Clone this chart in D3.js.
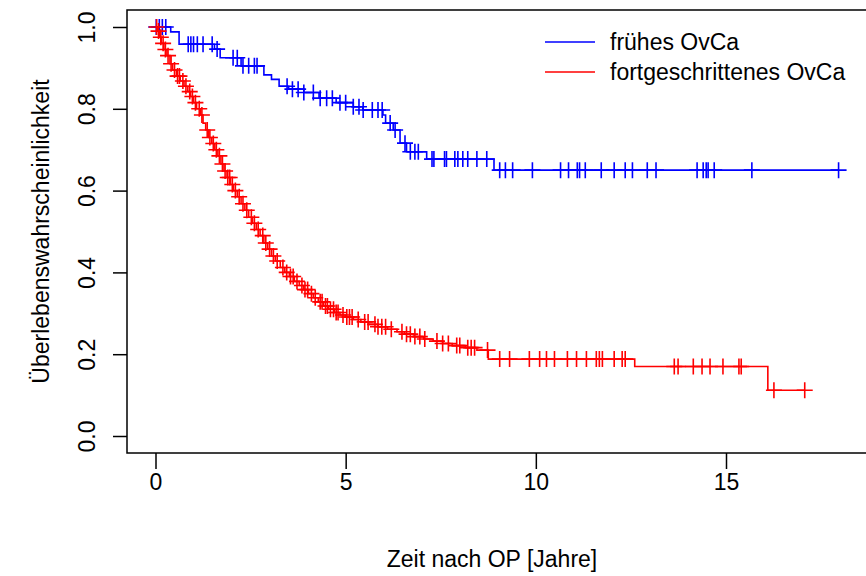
<!DOCTYPE html>
<html>
<head>
<meta charset="utf-8">
<script src="https://cdn.jsdelivr.net/npm/d3@7"></script>
<style>
  body { margin: 0; background: #fff; }
  svg { display: block; }
  text { font-family: "Liberation Sans", Arial, sans-serif; fill: #000; }
</style>
</head>
<body>
<svg id="km" width="866" height="576"></svg>
<script>
// ---- data ----
var seriesNames = ["frühes OvCa", "fortgeschrittenes OvCa"];
var seriesColours = ["#0000ff", "#ff0000"];

// Kaplan-Meier steps: time [years] and survival after that time
var blueTimes = [0, 0.40, 0.62, 1.55, 1.70, 2.25, 2.85, 3.05, 3.25, 3.50, 3.90, 4.30, 4.75, 5.20, 5.45, 5.98, 6.05, 6.25, 6.43, 6.60, 7.13, 8.90];
var blueSurv  = [1.0, 0.988, 0.958, 0.946, 0.925, 0.905, 0.883, 0.872, 0.855, 0.848, 0.840, 0.826, 0.815, 0.805, 0.797, 0.785, 0.765, 0.748, 0.716, 0.695, 0.677, 0.650];
var blueCensor = [0.02, 0.10, 0.18, 0.27, 0.86, 0.93, 1.00, 1.10, 1.25, 1.49, 1.62, 2.04, 2.15, 2.30, 2.45, 2.60, 2.67,
  3.46, 3.60, 3.75, 3.90, 4.15, 4.33, 4.50, 4.65, 4.85, 5.00, 5.20, 5.35, 5.46, 5.70, 5.85, 5.96, 6.17, 6.30, 6.56,
  6.70, 6.82, 6.91, 7.27, 7.32, 7.60, 7.65, 7.87, 7.95, 8.08, 8.21, 8.45, 8.71, 9.05, 9.20, 9.39, 9.91, 10.65, 10.86,
  11.09, 11.15, 11.30, 11.72, 12.06, 12.35, 12.54, 12.93, 13.16, 14.24, 14.40, 14.48, 14.53, 14.69, 15.68, 17.96];

var redTimes = [0, 0.05, 0.10, 0.15, 0.22, 0.30, 0.38, 0.45, 0.55, 0.65, 0.75, 0.85, 0.92, 1.00, 1.08, 1.18, 1.25, 1.32,
  1.40, 1.48, 1.56, 1.64, 1.72, 1.80, 1.88, 1.97, 2.05, 2.15, 2.25, 2.35, 2.45, 2.55, 2.65, 2.75, 2.85, 2.95, 3.05,
  3.15, 3.28, 3.40, 3.52, 3.65, 3.78, 3.90, 4.02, 4.15, 4.28, 4.42, 4.55, 4.70, 4.85, 5.00, 5.20, 5.40, 5.60, 5.85,
  6.10, 6.35, 6.55, 6.80, 7.05, 7.30, 7.55, 7.80, 8.15, 8.45, 8.75, 12.60, 16.10];
var redSurv = [1.0, 0.99, 0.975, 0.96, 0.945, 0.93, 0.91, 0.895, 0.88, 0.868, 0.855, 0.842, 0.83, 0.815, 0.80, 0.785, 0.765, 0.748,
  0.73, 0.715, 0.70, 0.685, 0.665, 0.648, 0.632, 0.615, 0.60, 0.585, 0.568, 0.552, 0.535, 0.52, 0.505, 0.49, 0.472, 0.457, 0.44,
  0.428, 0.412, 0.40, 0.39, 0.378, 0.368, 0.358, 0.348, 0.338, 0.328, 0.318, 0.31, 0.302, 0.296, 0.291, 0.285, 0.279, 0.273, 0.267,
  0.261, 0.255, 0.249, 0.243, 0.237, 0.232, 0.226, 0.221, 0.216, 0.21, 0.188, 0.17, 0.112];
var redCensor = [0.03, 0.08, 0.14, 0.20, 0.26, 0.33, 0.41, 0.50, 0.58, 0.63, 0.72, 0.80, 0.90, 0.97, 1.05, 1.15, 1.22, 1.36,
  1.43, 1.52, 1.60, 1.68, 1.76, 1.83, 1.90, 1.95, 2.02, 2.10, 2.20, 2.30, 2.40, 2.52, 2.60, 2.70, 2.82, 2.90, 3.00, 3.10,
  3.20, 3.35, 3.45, 3.55, 3.62, 3.72, 3.85, 3.93, 4.00, 4.10, 4.20, 4.33, 4.38, 4.47, 4.52, 4.60, 4.68, 4.75, 4.80, 4.93,
  5.03, 5.10, 5.17, 5.33, 5.50, 5.59, 5.77, 5.85, 5.95, 6.05, 6.20, 6.48, 6.60, 6.70, 6.82, 6.95, 7.08, 7.40, 7.55, 7.70,
  7.92, 8.00, 8.21, 8.30, 8.39, 8.73, 9.05, 9.31, 9.83, 10.10, 10.28, 10.49, 10.83, 11.07, 11.33, 11.59, 11.67, 11.75,
  12.06, 12.27, 12.35, 13.64, 13.74, 14.14, 14.37, 14.58, 14.92, 15.34, 15.40, 16.26, 17.07];

var xTicks = [0, 5, 10, 15];
var yTicks = [0.0, 0.2, 0.4, 0.6, 0.8, 1.0];

// ---- setup ----
var svg = d3.select("#km");
var fontSize = 23;

var x = d3.scaleLinear().domain([0, 15]).range([155.5, 726]);
var y = d3.scaleLinear().domain([0, 1]).range([436, 27]);

// plot box (R style, runs off the right edge)
var box = {left: 127, top: 10, right: 884, bottom: 453};

svg.append("rect")
    .attr("x", box.left)
    .attr("y", box.top)
    .attr("width", box.right - box.left)
    .attr("height", box.bottom - box.top)
    .attr("fill", "none")
    .attr("stroke", "#000")
    .attr("stroke-width", 1.5);

// x axis
var xAxis = d3.axisBottom(x)
    .tickValues(xTicks)
    .tickSize(16)
    .tickPadding(5)
    .tickFormat(d3.format("d"));

var gx = svg.append("g")
    .attr("transform", "translate(0," + box.bottom + ")")
    .call(xAxis);
gx.select(".domain").remove();
gx.selectAll(".tick line").attr("stroke-width", 1.5);
gx.selectAll(".tick text").attr("font-size", fontSize);

// y axis
var yAxis = d3.axisLeft(y)
    .tickValues(yTicks)
    .tickSize(14)
    .tickPadding(0)
    .tickFormat(d3.format(".1f"));

var gy = svg.append("g")
    .attr("transform", "translate(" + box.left + ",0)")
    .call(yAxis);
gy.select(".domain").remove();
gy.selectAll(".tick line").attr("stroke-width", 1.5);
gy.selectAll(".tick text")
    .attr("font-size", fontSize)
    .attr("text-anchor", "middle")
    .attr("dy", 0)
    .attr("x", 0)
    .attr("transform", "translate(-32,0) rotate(-90)");

// axis titles
svg.append("text")
    .attr("x", 492)
    .attr("y", 567)
    .attr("text-anchor", "middle")
    .attr("font-size", fontSize)
    .text("Zeit nach OP [Jahre]");

svg.append("text")
    .attr("transform", "translate(49," + y(0.5) + ") rotate(-90)")
    .attr("text-anchor", "middle")
    .attr("font-size", fontSize)
    .text("Überlebenswahrscheinlichkeit");

// ---- curves ----
var plot = svg.append("g");

var line = d3.line()
    .x(function(d){ return x(d[0]); })
    .y(function(d){ return y(d[1]); })
    .curve(d3.curveStepAfter);

function survAt(times, surv, t){
    var i = d3.bisectRight(times, t) - 1;
    return surv[Math.max(i, 0)];
}

function drawCurve(times, surv, censor, colour){
    var pts = times.map(function(t, i){ return [t, surv[i]]; });
    var tEnd = d3.max([times[times.length - 1], censor[censor.length - 1]]);
    pts.push([tEnd, survAt(times, surv, tEnd)]);

    plot.append("path")
        .datum(pts)
        .attr("fill", "none")
        .attr("stroke", colour)
        .attr("stroke-width", 1.6)
        .attr("d", line);

    plot.append("g").selectAll("path")
        .data(censor)
        .enter().append("path")
        .attr("fill", "none")
        .attr("stroke", colour)
        .attr("stroke-width", 1.6)
        .attr("d", function(t){
            var cx = x(t), cy = y(survAt(times, surv, t)), s = 8;
            return "M" + (cx - s) + "," + cy + "H" + (cx + s) + "M" + cx + "," + (cy - s) + "V" + (cy + s);
        });
}

drawCurve(blueTimes, blueSurv, blueCensor, seriesColours[0]);
drawCurve(redTimes, redSurv, redCensor, seriesColours[1]);

// ---- legend ----
var legend = svg.append("g").attr("transform", "translate(545,42)");
seriesNames.forEach(function(name, i){
    legend.append("line")
        .attr("x1", 0).attr("x2", 50)
        .attr("y1", i * 30).attr("y2", i * 30)
        .attr("stroke", seriesColours[i])
        .attr("stroke-width", 1.6);
    legend.append("text")
        .attr("x", 65)
        .attr("y", i * 30)
        .attr("dy", "0.35em")
        .attr("font-size", fontSize)
        .text(name);
});
</script>
</body>
</html>
